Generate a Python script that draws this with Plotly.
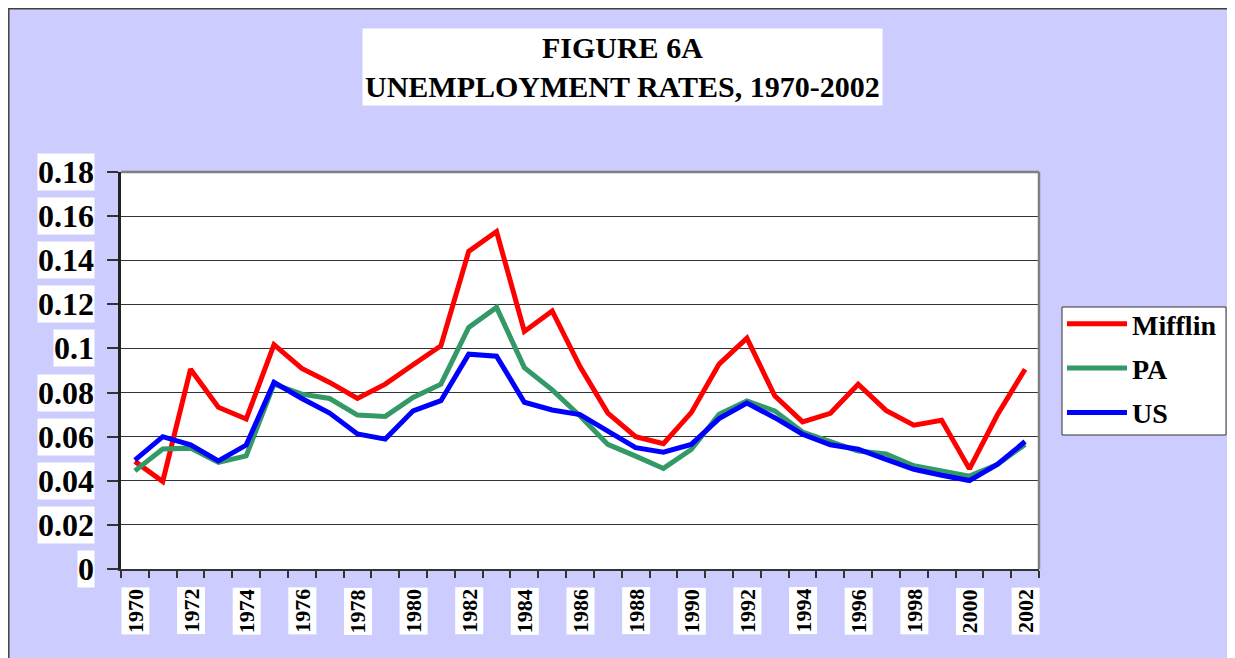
import plotly.graph_objects as go

# ---------------- data ----------------
years = list(range(1970, 2003))
mifflin = [0.0488, 0.0397, 0.0906, 0.0733, 0.0680, 0.1017, 0.0909, 0.0846, 0.0773, 0.0838,
           0.0926, 0.1012, 0.1440, 0.1530, 0.1077, 0.1170, 0.0918, 0.0707, 0.0600, 0.0568,
           0.0709, 0.0929, 0.1047, 0.0785, 0.0667, 0.0706, 0.0838, 0.0719, 0.0652, 0.0674,
           0.0454, 0.0698, 0.0906]
pa = [0.0445, 0.0544, 0.0548, 0.0483, 0.0513, 0.0838, 0.0793, 0.0773, 0.0698, 0.0692,
      0.0778, 0.0838, 0.1095, 0.1186, 0.0913, 0.0812, 0.0694, 0.0565, 0.0512, 0.0456,
      0.0542, 0.0702, 0.0762, 0.0717, 0.0621, 0.0580, 0.0535, 0.0522, 0.0468, 0.0444,
      0.0421, 0.0474, 0.0565]
us = [0.0494, 0.0600, 0.0563, 0.0490, 0.0562, 0.0846, 0.0773, 0.0707, 0.0612, 0.0589,
      0.0717, 0.0763, 0.0974, 0.0965, 0.0756, 0.0721, 0.0700, 0.0622, 0.0550, 0.0530,
      0.0565, 0.0682, 0.0752, 0.0686, 0.0611, 0.0563, 0.0543, 0.0497, 0.0452, 0.0425,
      0.0401, 0.0474, 0.0578]
series_names = ["Mifflin", "PA", "US"]
series_colors = ["#FF0000", "#339966", "#0000FF"]
y_tick_values = [0, 0.02, 0.04, 0.06, 0.08, 0.10, 0.12, 0.14, 0.16, 0.18]
y_tick_labels = ["0", "0.02", "0.04", "0.06", "0.08", "0.1", "0.12", "0.14", "0.16", "0.18"]
x_label_years = years[::2]
title_lines = ["FIGURE 6A", "UNEMPLOYMENT RATES, 1970-2002"]

# ---------------- geometry (page pixel coords; page has 8px body margin) ----------------
OFF = 8
W, H = 1235 - OFF, 658 - OFF
PL, PR, PT, PB = 121, 1039, 172, 569          # plot area in page pixels
L, T = PL - OFF, PT - OFF
PW, PH = PR - PL, PB - PT
R, B = W - L - PW, H - T - PH
FONT = "Liberation Serif, Times New Roman, serif"


def px_x(px):
    return (px - PL) / PW


def px_y(py):
    return (PB - py) / PH


fig = go.Figure()
for name, vals, col in zip(series_names, [mifflin, pa, us], series_colors):
    fig.add_trace(go.Scatter(x=years, y=vals, mode="lines", name=name,
                             legendgroup=name,
                             line=dict(color=col, width=5)))

annotations = []
for v, lab in zip(y_tick_values, y_tick_labels):
    annotations.append(dict(x=px_x(95), xref="paper", y=v, yref="y", text=lab,
                            showarrow=False, xanchor="right", yanchor="middle",
                            bgcolor="white", borderpad=0,
                            font=dict(family=FONT, size=32, color="black", weight="bold")))
for yr in x_label_years:
    annotations.append(dict(x=yr, xref="x", y=px_y(587), yref="paper", text=str(yr),
                            showarrow=False, xanchor="center", yanchor="top",
                            textangle=-90, bgcolor="white", borderpad=1,
                            font=dict(family=FONT, size=22, color="black", weight="bold")))
annotations.append(dict(x=px_x(622), xref="paper", y=px_y(66.5), yref="paper",
                        text="<br>".join(title_lines), showarrow=False,
                        xanchor="center", yanchor="middle", bgcolor="white",
                        borderpad=2, align="center",
                        font=dict(family=FONT, size=30, color="black", weight="bold")))

shapes = [
    # outer frame
    dict(type="line", xref="paper", yref="paper", x0=px_x(8.8), x1=px_x(8.8),
         y0=px_y(700), y1=px_y(OFF), line=dict(color="#404040", width=1.5), layer="above"),
    dict(type="line", xref="paper", yref="paper", x0=px_x(1233), x1=px_x(1233),
         y0=px_y(700), y1=px_y(OFF), line=dict(color="#404040", width=1.5), layer="above"),
    dict(type="line", xref="paper", yref="paper", x0=px_x(8.8), x1=px_x(1233),
         y0=px_y(OFF + 0.8), y1=px_y(OFF + 0.8), line=dict(color="#404040", width=1.5),
         layer="above"),
    # top & right plot border (gray)
    dict(type="line", xref="paper", yref="paper", x0=0, x1=1, y0=1, y1=1,
         line=dict(color="#808080", width=2.5), layer="above"),
    dict(type="line", xref="paper", yref="paper", x0=1, x1=1, y0=0, y1=1,
         line=dict(color="#808080", width=2.5), layer="above"),
    # legend box
    dict(type="rect", xref="paper", yref="paper", x0=px_x(1062), x1=px_x(1226),
         y0=px_y(435), y1=px_y(307), fillcolor="white",
         line=dict(color="#333333", width=1), layer="above"),
]

fig.update_layout(
    width=W, height=H,
    margin=dict(l=L, r=R, t=T, b=B),
    paper_bgcolor="#CCCCFF", plot_bgcolor="white",
    font=dict(family=FONT, color="black"),
    showlegend=True,
    legend=dict(x=px_x(1062), y=px_y(299), xanchor="left", yanchor="top",
                bgcolor="rgba(0,0,0,0)", borderwidth=0,
                font=dict(family=FONT, size=28, color="black", weight="bold"),
                itemwidth=60,
                traceorder="grouped", tracegroupgap=5),
    annotations=annotations,
    shapes=shapes,
)
fig.update_xaxes(range=[1969.5, 2002.5], tickmode="array",
                 tickvals=[1969.5 + i for i in range(34)], showticklabels=False,
                 ticks="outside", ticklen=7, tickwidth=1.5, tickcolor="#333333",
                 showgrid=False, zeroline=False, showline=True,
                 linecolor="#333333", linewidth=2)
fig.update_yaxes(range=[0, 0.18], tickmode="array", tickvals=y_tick_values,
                 showticklabels=False, ticks="outside", ticklen=11, tickwidth=1.5,
                 tickcolor="#333333", showgrid=True, gridcolor="#333333", gridwidth=1,
                 zeroline=False, showline=True, linecolor="#222222", linewidth=2.5)

fig.write_html("out.html")
